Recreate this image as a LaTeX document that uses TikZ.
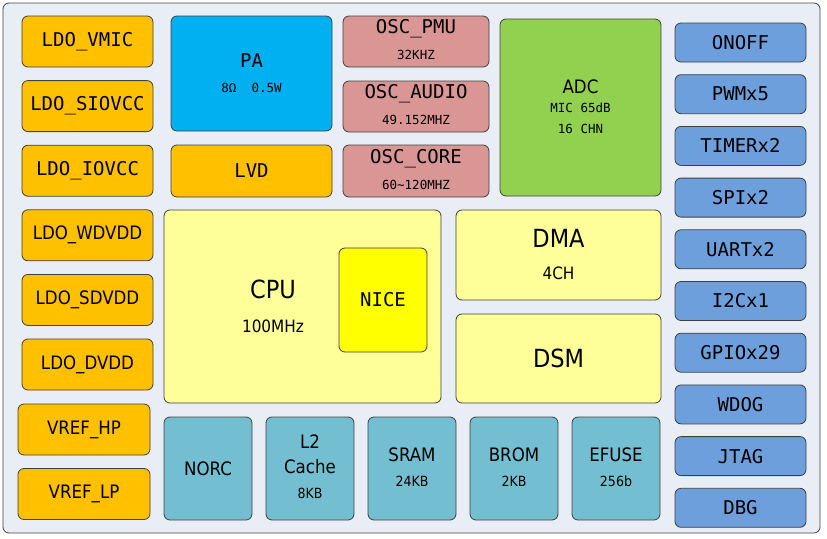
\documentclass[tikz,border=0pt]{standalone}
\usepackage{fontspec}
\setmainfont{DejaVu Sans Mono}
\newfontfamily\condfont{DejaVu Sans Condensed}
\definecolor{edge}{HTML}{404040}
\definecolor{bgpanel}{HTML}{E9EEF6}
\definecolor{pwrcol}{HTML}{FFC000}
\definecolor{pacol}{HTML}{00B0F0}
\definecolor{osccol}{HTML}{D99694}
\definecolor{adccol}{HTML}{92D050}
\definecolor{iocol}{HTML}{6E9FDD}
\definecolor{corecol}{HTML}{FFFF99}
\definecolor{nicecol}{HTML}{FFFF00}
\definecolor{memcol}{HTML}{73BFD1}
\tikzset{
  blk/.style={draw=edge,line width=0.8pt,rounded corners=6pt,inner sep=0pt,
    font=\fontsize{19}{19}\selectfont},
  pwr/.style={blk,fill=pwrcol,minimum width=131pt,minimum height=51pt},
  osc/.style={blk,fill=osccol,minimum width=146pt,minimum height=51pt},
  io/.style={blk,fill=iocol,minimum width=131pt,minimum height=39pt},
  mem/.style={blk,fill=memcol,minimum width=88pt,minimum height=103pt},
  core/.style={blk,fill=corecol},
  ttl/.style={inner sep=0pt,font=\fontsize{19}{19}\selectfont},
  cttl/.style={inner sep=0pt,font=\condfont\fontsize{18.5}{18.5}\selectfont},
  bigttl/.style={inner sep=0pt,font=\condfont\fontsize{25}{25}\selectfont},
  sub/.style={inner sep=0pt,font=\fontsize{12.5}{12.5}\selectfont},
  csub/.style={inner sep=0pt,font=\condfont\fontsize{14}{14}\selectfont},
  bigsub/.style={inner sep=0pt,font=\condfont\fontsize{17}{17}\selectfont},
}
\begin{document}
\begin{tikzpicture}[x=1pt,y=-1pt]
\useasboundingbox (0,0) rectangle (827,538);
\draw[draw=edge,line width=0.8pt,fill=bgpanel,rounded corners=6pt] (3,3) rectangle (820,533);

% power column
\foreach \lbl [count=\i from 0] in {LDO\_VMIC,LDO\_SIOVCC,LDO\_IOVCC}
  \node[pwr] (ldo\i) at (87.5,41.5+64.6*\i) {\lbl};
\foreach \lbl [count=\i from 3] in {LDO\_WDVDD,LDO\_SDVDD,LDO\_DVDD}
  \node[pwr,font=\condfont\fontsize{18.5}{18.5}\selectfont] (ldo\i) at (87.5,41.5+64.6*\i) {\lbl};
\node[pwr,minimum width=132pt,font=\condfont\fontsize{18.5}{18.5}\selectfont] (vrefhp) at (84,429.5) {VREF\_HP};
\node[pwr,minimum width=132pt,font=\condfont\fontsize{18.5}{18.5}\selectfont] (vreflp) at (84,494) {VREF\_LP};

% analog
\node[blk,fill=pacol,minimum width=161pt,minimum height=115pt] (pa) at (251.5,73.5) {};
\node[ttl] (pa-t) at ([yshift=12.5]pa.center) {PA};
\node[sub] (pa-s) at ([yshift=-14.5]pa.center) {8Ω\ \ 0.5W};
\node[pwr,minimum width=161pt,minimum height=52pt] (lvd) at (251.5,171) {LVD};

\node[osc] (pmu) at (416,41.5) {};
\node[ttl] (pmu-t) at ([yshift=12.5]pmu.center) {OSC\_PMU};
\node[sub] (pmu-s) at ([yshift=-13.5]pmu.center) {32KHZ};
\node[osc] (audio) at (416,106.5) {};
\node[ttl] (audio-t) at ([yshift=12.5]audio.center) {OSC\_AUDIO};
\node[sub] (audio-s) at ([yshift=-13.5]audio.center) {49.152MHZ};
\node[osc,minimum height=52pt] (osccore) at (416,171) {};
\node[ttl] (osccore-t) at ([yshift=12.5]osccore.center) {OSC\_CORE};
\node[sub] (osccore-s) at ([yshift=-13.5]osccore.center) {60\string~120MHZ};

\node[blk,fill=adccol,minimum width=161pt,minimum height=177pt] (adc) at (580.5,107.5) {};
\node[cttl] (adc-t) at ([yshift=20.5]adc.center) {ADC};
\node[sub] (adc-s1) at (adc.center) {MIC 65dB};
\node[sub] (adc-s2) at ([yshift=-21.5]adc.center) {16 CHN};

% core
\node[core,minimum width=277pt,minimum height=193pt] (cpu) at (302.5,306.5) {};
\node[bigttl] (cpu-t) at (273,289) {CPU};
\node[bigsub] (cpu-s) at (273,326) {100MHz};
\node[blk,fill=nicecol,minimum width=88pt,minimum height=104pt] (nice) at (383,300) {NICE};

\node[core,minimum width=205pt,minimum height=90pt] (dma) at (558.5,255) {};
\node[bigttl] (dma-t) at ([yshift=17]dma.center) {DMA};
\node[bigsub] (dma-s) at ([yshift=-18]dma.center) {4CH};
\node[core,minimum width=205pt,minimum height=89pt,font=\condfont\fontsize{25}{25}\selectfont] (dsm) at (558.5,358.5) {DSM};

% memories
\node[mem,font=\condfont\fontsize{18.5}{18.5}\selectfont] (norc) at (208,468.5) {NORC};
\node[mem] (l2) at (310,468.5) {};
\node[cttl] (l2-t) at ([yshift=26.5]l2.center) {L2};
\node[cttl] (l2-c) at ([yshift=1.5]l2.center) {Cache};
\node[csub] (l2-s) at ([yshift=-24.5]l2.center) {8KB};
\foreach \nm/\lbl/\sz [count=\i from 2] in {sram/SRAM/24KB,brom/BROM/2KB,efuse/EFUSE/256b}{
  \node[mem] (\nm) at (208+102*\i,468.5) {};
  \node[cttl] (\nm-t) at ([yshift=13.5]\nm.center) {\lbl};
  \node[csub] (\nm-s) at ([yshift=-12.5]\nm.center) {\sz};
}

% peripherals
\foreach \lbl [count=\i from 0] in {ONOFF,PWMx5,TIMERx2,SPIx2,UARTx2,I2Cx1,GPIOx29,WDOG,JTAG,DBG}
  \node[io] (io\i) at (740.5,42.5+51.7*\i) {\lbl};
\end{tikzpicture}
\end{document}
